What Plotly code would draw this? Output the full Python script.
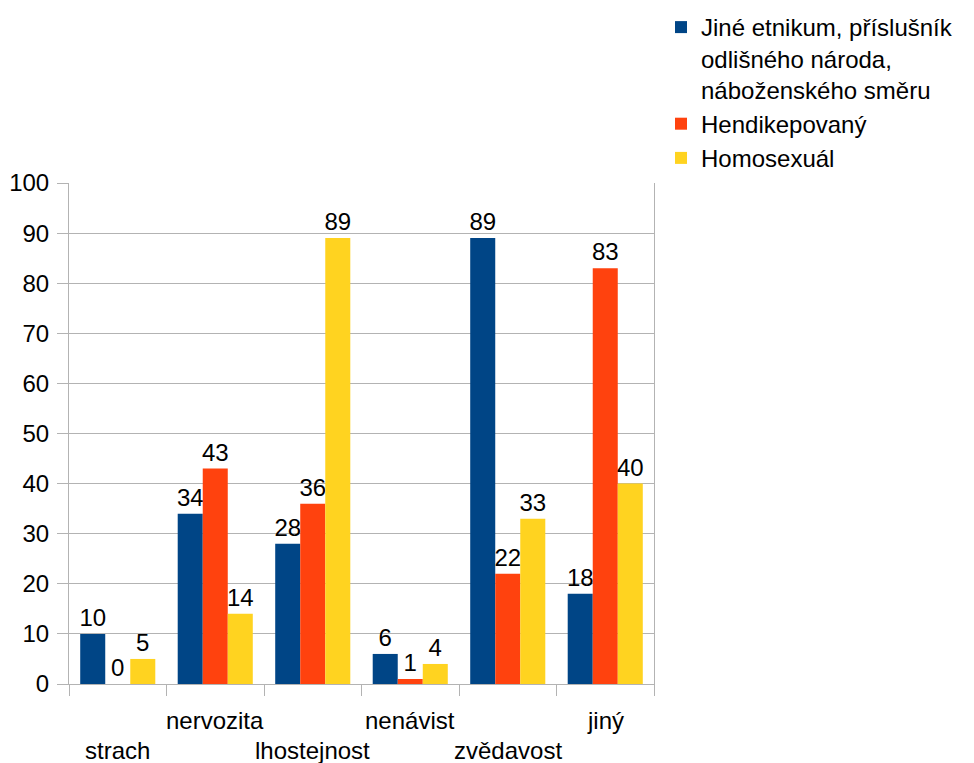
import plotly.graph_objects as go

# Reactions by category and group
categories = ["strach", "nervozita", "lhostejnost", "nenávist", "zvědavost", "jiný"]
series_names = [
    "Jiné etnikum, příslušník<br>odlišného národa,<br>náboženského směru",
    "Hendikepovaný",
    "Homosexuál",
]
etnikum = [10, 34, 28, 6, 89, 18]
hendikepovany = [0, 43, 36, 1, 22, 83]
homosexual = [5, 14, 89, 4, 33, 40]
y_ticks = [0, 10, 20, 30, 40, 50, 60, 70, 80, 90, 100]

colors = ["#004586", "#ff420e", "#ffd320"]
FONT = "Liberation Sans, Arial, sans-serif"
FS = 24

fig = go.Figure()
for name, vals, col in zip(series_names, [etnikum, hendikepovany, homosexual], colors):
    fig.add_trace(go.Bar(
        x=categories, y=vals, name=name,
        marker=dict(color=col, line=dict(width=0)),
        text=vals, texttemplate="%{text}", textposition="outside",
        constraintext="none",
        textfont=dict(family=FONT, size=FS, color="#000000"),
        cliponaxis=False,
    ))

# staggered category labels below the axis
for i, cat in enumerate(categories):
    fig.add_annotation(
        x=cat, xref="x", y=-36 / 501 if i % 2 else -66 / 501, yref="paper",
        text=cat, showarrow=False, xanchor="center", yanchor="middle",
        font=dict(family=FONT, size=FS, color="#000000"),
    )

fig.update_layout(
    width=974, height=763,
    margin=dict(l=69, r=320, t=183, b=79, autoexpand=False),
    paper_bgcolor="white", plot_bgcolor="white",
    barmode="group", bargap=0.23, bargroupgap=0,
    font=dict(family=FONT, size=FS, color="#000000"),
    legend=dict(
        x=1.012, xanchor="left", y=(684 - 5) / 501, yanchor="top",
        xref="paper", yref="paper", valign="top",
        font=dict(family=FONT, size=FS, color="#000000"),
        itemwidth=30, tracegroupgap=8, bgcolor="rgba(0,0,0,0)",
        traceorder="normal",
    ),
    uniformtext=dict(mode=False),
)
fig.update_xaxes(
    type="category", showticklabels=False, tickson="boundaries",
    ticks="outside", ticklen=11, tickcolor="#b3b3b3", tickwidth=1,
    showline=True, linecolor="#b3b3b3", linewidth=1,
    showgrid=False, zeroline=False,
)
fig.update_yaxes(
    range=[0, 100], tickvals=y_ticks, ticks="outside", ticklen=11,
    tickcolor="#b3b3b3", tickwidth=1,
    showline=True, linecolor="#b3b3b3", linewidth=1, mirror=True,
    showgrid=True, gridcolor="#b3b3b3", gridwidth=1, zeroline=False,
    tickfont=dict(family=FONT, size=FS, color="#000000"), ticklabelstandoff=3,
)

fig.write_html("out.html")
